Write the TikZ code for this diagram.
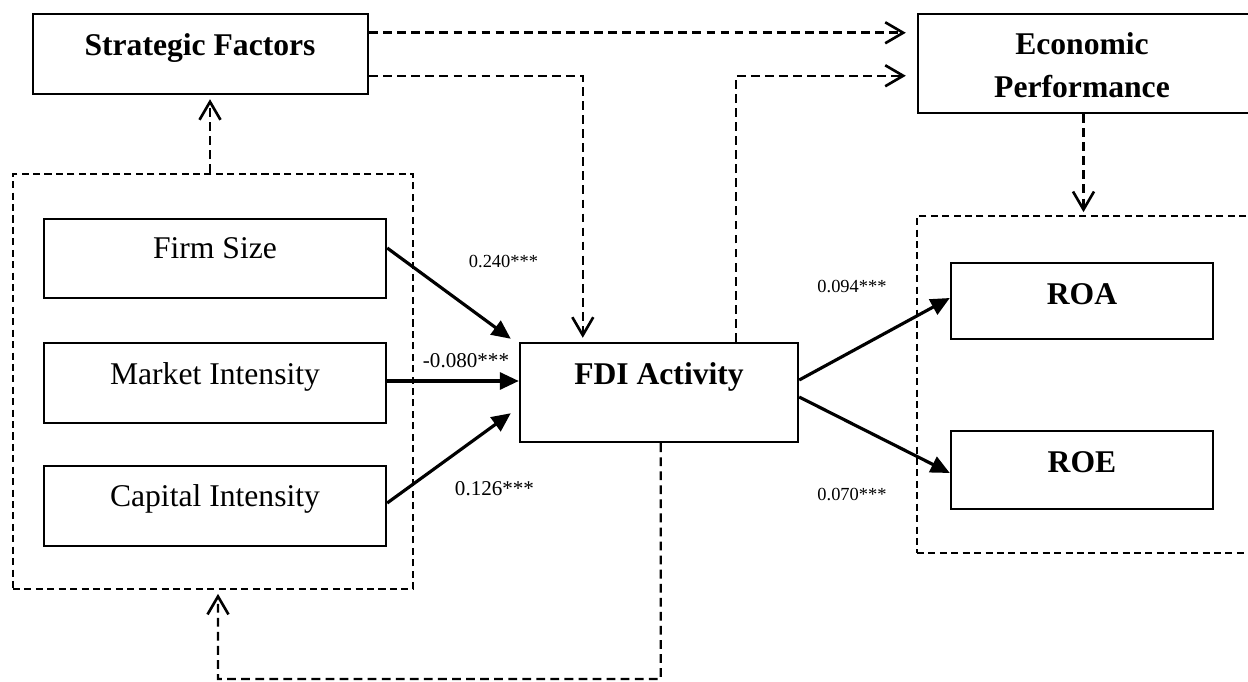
\documentclass[tikz,border=0pt]{standalone}
\usepackage{fontspec}
\setmainfont{Liberation Serif}
\usetikzlibrary{arrows.meta,calc}
\begin{document}
\begin{tikzpicture}[x=0.02cm,y=-0.02cm,
  box/.style={draw, line width=1.4pt, inner sep=0pt, rectangle},
  dbox/.style={draw, dash pattern=on 4pt off 2.5pt, line width=1pt, inner sep=0pt, rectangle},
  dconn/.style={dash pattern=on 5pt off 3pt, line width=1.5pt, -{Straight Barb[length=3.6mm,width=4.2mm,line width=1.5pt]}},
  sarr/.style={line width=1.8pt, -{Triangle[length=3.8mm,width=3.4mm]}},
  big/.style={font=\fontsize{18}{22}\selectfont, anchor=base, inner sep=0pt},
  bigb/.style={font=\bfseries\fontsize{18}{22}\selectfont, anchor=base, inner sep=0pt},
  coef/.style={font=\fontsize{10.5}{12}\selectfont, anchor=base, inner sep=0pt},
  coefl/.style={font=\fontsize{12}{14}\selectfont, anchor=base, inner sep=0pt}]
\useasboundingbox (0,0) rectangle (1248,682);
\clip (0,0) rectangle (1248,682);
\fill[white] (0,0) rectangle (1248,682);

% boxes
\node[box, minimum width=6.70cm, minimum height=1.60cm] (sf) at (200.5,54) {};
\node[dbox, minimum width=8.00cm, minimum height=8.30cm] (lbox) at (213,381.5) {};
\node[box, minimum width=6.84cm, minimum height=1.58cm] (fs) at (215,258.5) {};
\node[box, minimum width=6.84cm, minimum height=1.60cm] (mi) at (215,383) {};
\node[box, minimum width=6.84cm, minimum height=1.60cm] (ci) at (215,506) {};
\node[box, minimum width=5.56cm, minimum height=1.98cm] (fdi) at (659,392.5) {};
\node[box, minimum width=6.62cm, minimum height=1.98cm] (ep) at (1083.5,63.5) {};
\node[dbox, minimum width=6.66cm, minimum height=6.74cm] (rbox) at (1083.5,384.5) {};
\node[box, minimum width=5.24cm, minimum height=1.52cm] (roa) at (1082,301) {};
\node[box, minimum width=5.24cm, minimum height=1.56cm] (roe) at (1082,470) {};

% texts
\node[bigb] (tsf) at (200,56) {Strategic Factors};
\node[big] (tfs) at (215,259) {Firm Size};
\node[big] (tmi) at (215,384) {Market Intensity};
\node[big] (tci) at (215,506) {Capital Intensity};
\node[bigb] (tfdi) at (659,384) {FDI Activity};
\node[bigb] (tep1) at (1082,55) {Economic};
\node[bigb] (tep2) at (1082,98) {Performance};
\node[bigb] (troa) at (1082,305) {ROA};
\node[bigb] (troe) at (1082,472) {ROE};

% coefficients
\node[coef] (c1) at (503.5,268) {0.240***};
\node[coefl] (c2) at (466,367) {-0.080***};
\node[coefl] (c3) at (494.5,495) {0.126***};
\node[coef] (c4) at (852,293) {0.094***};
\node[coef] (c5) at (852,500) {0.070***};

% dashed connectors
\draw[dconn, shorten >=0.22cm] ([yshift=-0.4cm]sf.north east) coordinate (a1) -- (a1 -| ep.west);
\draw[dconn, line width=1.2pt, shorten >=0.08cm] ([yshift=-1.26cm]sf.north east) -| ([xshift=1.28cm]fdi.north west);
\draw[dconn, line width=1.2pt, shorten >=0.22cm] ([xshift=4.34cm]fdi.north west) |- ([yshift=-1.26cm]ep.north west);
\draw[dconn, shorten >=0.06cm] (ep.south) -- (rbox.north);
\draw[dconn, shorten >=0.08cm] ([xshift=-0.06cm]lbox.north) -- ([xshift=-0.06cm]lbox.north |- sf.south);
\coordinate (fb) at (218,679);
\draw[dconn, line width=1.2pt, shorten >=0.08cm] ([xshift=2.84cm]fdi.south west) |- (fb) -- ([xshift=0.1cm]lbox.south);

% solid arrows
\draw[sarr] ([yshift=0.21cm]fs.east) -- ([xshift=-0.16cm,yshift=0.06cm]fdi.north west);
\draw[sarr] ([yshift=0.04cm]mi.east) -- ([yshift=0.04cm]mi.east -| fdi.west);
\draw[sarr] ([yshift=0.06cm]ci.east) -- ([xshift=-0.16cm,yshift=0.6cm]fdi.south west);
\draw[sarr] ([yshift=0.25cm]fdi.east) -- ([yshift=0.06cm]roa.west);
\draw[sarr] ([yshift=-0.09cm]fdi.east) -- ([yshift=-0.06cm]roe.west);
\end{tikzpicture}
\end{document}
